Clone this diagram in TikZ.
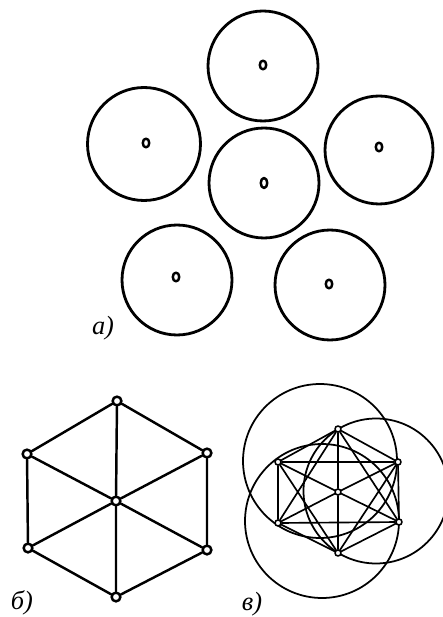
\documentclass[tikz,border=0pt]{standalone}
\usepackage{fontspec}
\newfontfamily\labelfont{Liberation Serif}
\usetikzlibrary{shapes.geometric}
\tikzset{
  disk/.style={circle,draw,line width=1.6pt,inner sep=0pt,minimum size=2.2cm},
  hole/.style={ellipse,draw,line width=1.4pt,inner sep=0pt,
               minimum width=1.3mm,minimum height=1.75mm},
  hv/.style={circle,draw,fill=white,line width=1.4pt,inner sep=0pt,minimum size=1.75mm},
  kv/.style={circle,draw,fill=white,line width=0.9pt,inner sep=0pt,minimum size=1.2mm},
  ring/.style={circle,draw,line width=1pt,inner sep=0pt,minimum size=3.08cm},
  tag/.style={draw=none,font=\labelfont\itshape\fontsize{15}{15}\selectfont},
  every picture/.style={line cap=round,line join=round}}

\begin{document}
\begin{tikzpicture}[x=0.02cm,y=-0.02cm]
  \useasboundingbox (0,0) rectangle (442,617);
  % a) six separate disks
  \node[disk] (d1) at (263,66){};   \node[hole] (h1) at (263,65){};
  \node[disk,minimum size=2.26cm] (d2) at (144,144){}; \node[hole] (h2) at (146,143){};
  \node[disk] (d3) at (264,183){};  \node[hole,minimum height=2mm] (h3) at (264,183){};
  \node[disk,minimum size=2.16cm] (d4) at (379,150){}; \node[hole] (h4) at (379,147){};
  \node[disk] (d5) at (177,280){};  \node[hole] (h5) at (176,277){};
  \node[disk] (d6) at (330,285){};  \node[hole] (h6) at (329,284){};
  \node[tag] at (103,328){а)};
  % b) wheel
  \node[hv] (bt) at (117,401){};  \node[hv] (bur) at (207,453){};
  \node[hv] (bul) at (27,454){};  \node[hv] (bc) at (116,501){};
  \node[hv] (bll) at (28,548){};  \node[hv] (blr) at (207,550){};
  \node[hv] (bb) at (116,597){};
  \draw[line width=1.4pt] (bt)--(bur)--(blr)--(bb)--(bll)--(bul)--(bt)
    (bc)--(bt) (bc)--(bur) (bc)--(blr) (bc)--(bb) (bc)--(bll) (bc)--(bul);
  \node[tag] at (22,603){б)};
  % c) complete graph with three circles
  \node[ring] (r1) at (320,461){};
  \node[ring] (r2) at (322,521){};
  \node[ring,minimum size=2.9cm] (r3) at (376,491){};
  \node[kv] (kt) at (338,429){};  \node[kv] (kur) at (398,462){};
  \node[kv] (kul) at (278,462){}; \node[kv] (kc) at (338,492){};
  \node[kv] (kll) at (278,523){}; \node[kv] (klr) at (399,522){};
  \node[kv] (kb) at (338,553){};
  \draw[line width=0.95pt] (kt)--(kur)--(klr)--(kb)--(kll)--(kul)--(kt)
    (kul)--(kur) (kll)--(klr) (kt)--(kll) (kt)--(klr) (kb)--(kul) (kb)--(kur)
    (kc)--(kt) (kc)--(kb) (kc)--(kul) (kc)--(kur) (kc)--(kll) (kc)--(klr);
  \node[tag] at (252,604){в)};
\end{tikzpicture}
\end{document}
